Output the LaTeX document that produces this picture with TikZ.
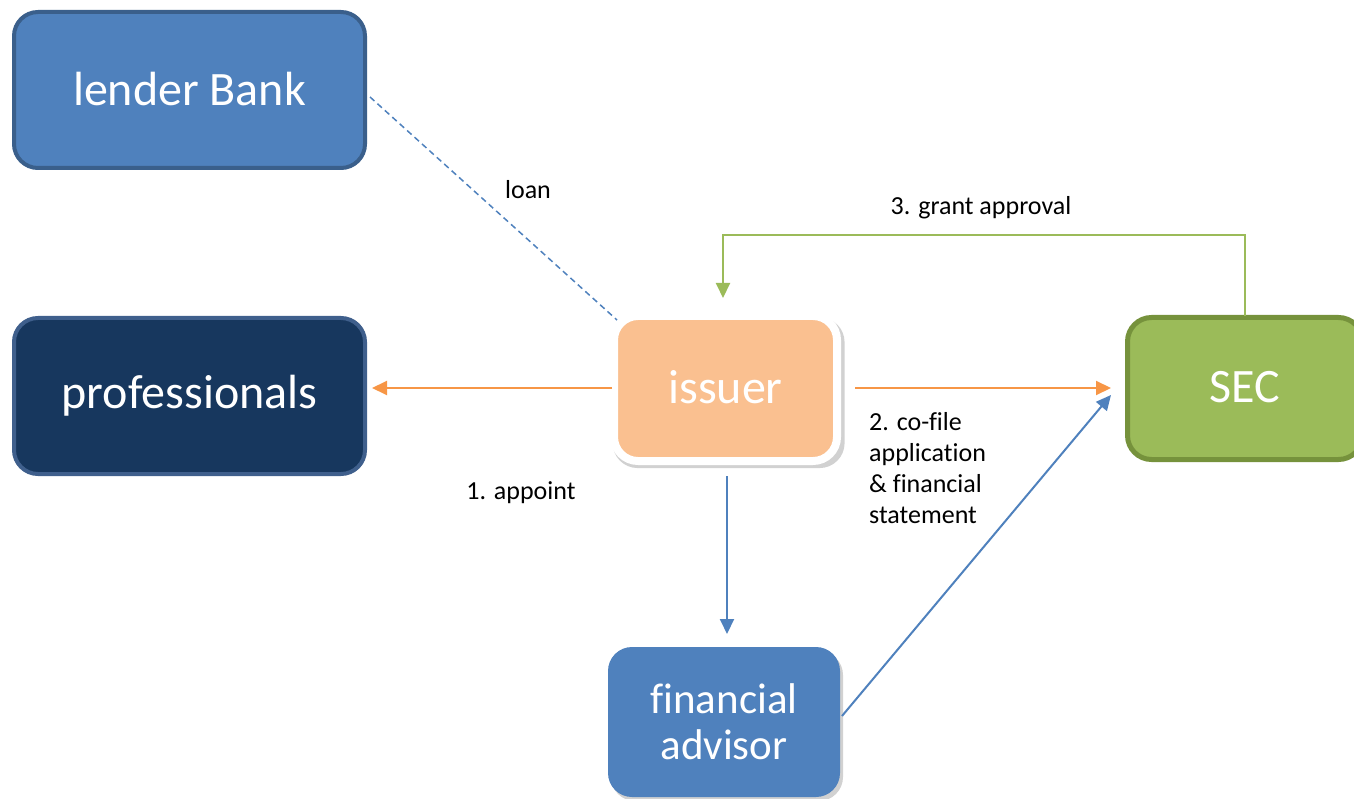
\documentclass[tikz,border=0pt]{standalone}
\usepackage{fontspec}
\setmainfont[Ligatures=NoCommon]{Carlito}
\usetikzlibrary{arrows.meta,shadows}
\definecolor{bfill}{HTML}{4F81BD}
\definecolor{bline}{HTML}{3A5F8B}
\definecolor{navy}{HTML}{17375E}
\definecolor{navyline}{HTML}{3F5F8C}
\definecolor{ofill}{HTML}{FAC090}
\definecolor{oline}{HTML}{F79646}
\definecolor{gfill}{HTML}{9BBB59}
\definecolor{gline}{HTML}{76923C}
\begin{document}
\begin{tikzpicture}[x=1pt,y=-1pt,
  box/.style={rounded corners=24pt,inner sep=0pt,text=white,align=center,
    font=\fontsize{48}{46}\selectfont},
  lbl/.style={font=\fontsize{26}{31}\selectfont,text=black,inner sep=0pt},
  tip/.style={-{Triangle[length=15pt,width=14pt]}},
  shad/.style={drop shadow={shadow xshift=3pt,shadow yshift=-4pt,shadow scale=1.04,opacity=0.3,fill=black!60}},
  shadb/.style={drop shadow={shadow xshift=3pt,shadow yshift=-4pt,opacity=0.3,fill=black!60}}]
\useasboundingbox (0,0) rectangle (1354,799);
\node[box,fill=bfill,draw=bline,line width=4pt,minimum width=351pt,minimum height=156pt] (bank) at (189.5,90) {\raisebox{3pt}{lender Bank}};
\node[box,fill=navy,draw=navyline,line width=4pt,minimum width=351pt,minimum height=156pt] (prof) at (189.5,396) {\raisebox{3pt}{professionals}};
\node[box,shad,fill=ofill,draw=white,line width=8pt,minimum width=223pt,minimum height=145pt] (issuer) at (725.5,388.5) {\raisebox{3pt}{issuer}};
\node[box,fill=gfill,draw=gline,line width=5pt,minimum width=235pt,minimum height=142pt] (sec) at (1245,388.5) {\raisebox{3pt}{SEC}};
\node[box,shadb,fill=bfill,minimum width=232pt,minimum height=150pt,font=\fontsize{43}{46}\selectfont] (fa) at (724,722) {financial\\advisor};
% connectors
\coordinate (bankend) at (370,97);
\coordinate (isstl) at (617,320);
\draw[bfill,line width=1.5pt,dash pattern=on 6pt off 4pt] (bankend) -- (isstl);
\coordinate (ol1) at (612,388);
\coordinate (ol2) at (372,388);
\draw[oline,line width=2pt,tip] (ol1) -- (ol2);
\coordinate (or1) at (855,388);
\coordinate (or2) at (1111,388);
\draw[oline,line width=2pt,tip] (or1) -- (or2);
\coordinate (bd1) at (727,476);
\coordinate (bd2) at (727,634);
\draw[bfill,line width=2pt,tip] (bd1) -- (bd2);
\coordinate (fa1) at (842,716);
\coordinate (fa2) at (1111,395);
\draw[bfill,line width=2pt,tip] (fa1) -- (fa2);
\coordinate (g1) at (1245,316);
\coordinate (g2) at (723,298);
\draw[gfill,line width=2pt,tip] (g1) -- (1245,235) -- (723,235) -- (g2);
% labels
\node[lbl] (loan) at (528,190) {loan};
\node[lbl] (grant) at (981,208) {3. grant approval};
\node[lbl] (appoint) at (521,493) {1. appoint};
\node[lbl,align=left,anchor=north west] (cofile) at (869,412) {2. co-file\\application\\\& financial\\statement};
\end{tikzpicture}
\end{document}
